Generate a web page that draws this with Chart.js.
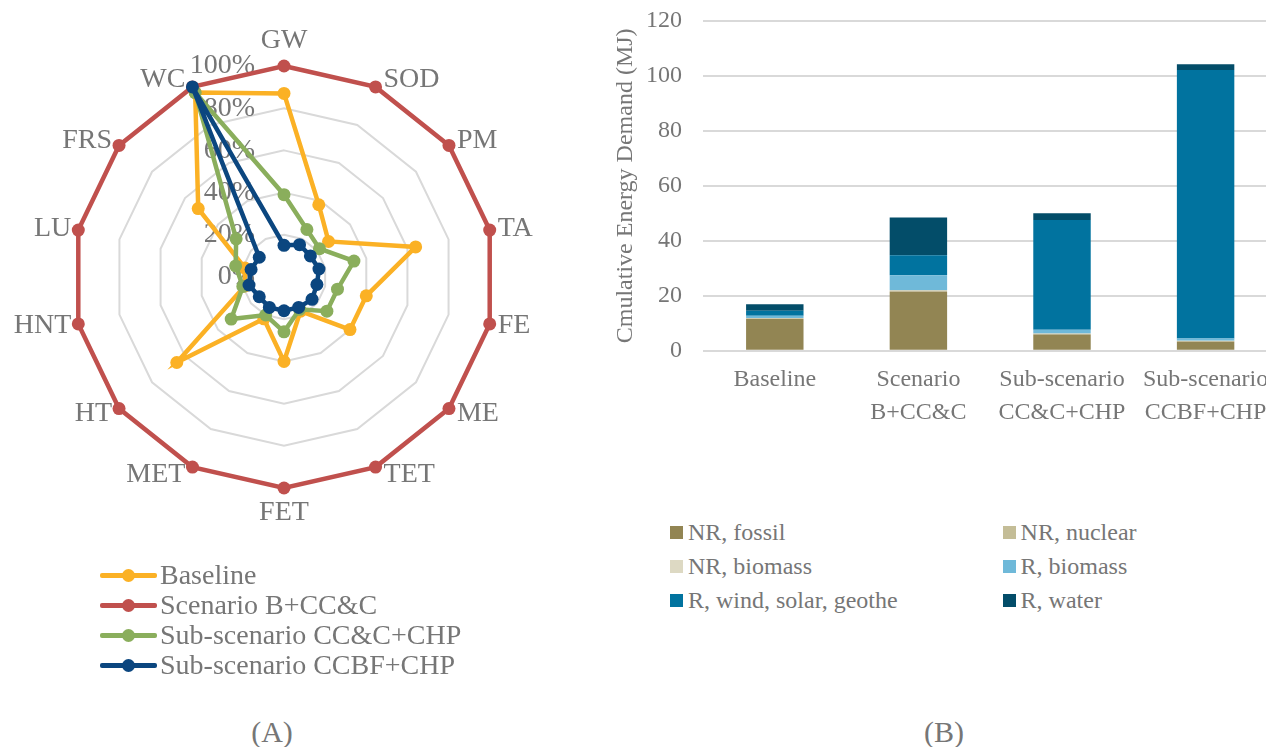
<!DOCTYPE html>
<html>
<head>
<meta charset="utf-8">
<script src="https://cdn.jsdelivr.net/npm/chart.js@4.4.1/dist/chart.umd.min.js"></script>
<style>
html,body{margin:0;padding:0;background:#fff;width:1266px;height:747px;overflow:hidden;position:relative;font-family:'Liberation Serif','Times New Roman',serif;color:#767676}
#radarCanvas{position:absolute;left:0;top:0}
#barCanvas{position:absolute;left:600px;top:0}
.rrow{position:absolute;left:100px;height:30px;line-height:30px;font-size:28px;white-space:nowrap}
.rrow .ln{position:absolute;left:0;top:13px;width:57px;height:4.5px;border-radius:2px}
.rrow .dt{position:absolute;left:21.5px;top:8.5px;width:13px;height:13px;border-radius:50%}
.rrow .tx{position:absolute;left:60px;top:0}
.brow{position:absolute;height:30px;line-height:30px;font-size:24px;white-space:nowrap}
.brow .bx{position:absolute;left:0;top:8.5px;width:13px;height:13px}
.brow .tx{position:absolute;left:18px;top:0}
.cap{position:absolute;font-size:30px;line-height:36px;transform:translateX(-50%)}
</style>
</head>
<body>
<canvas id="radarCanvas" width="570" height="560"></canvas>
<canvas id="barCanvas" width="700" height="460"></canvas>
<div id="radarLegend"></div>
<div id="barLegend"></div>
<div class="cap" style="left:272px;top:714px">(A)</div>
<div class="cap" style="left:944px;top:714px">(B)</div>
<script>
// ---------- Radar data (percent of maximum impact) ----------
const radarAxes = ['GW','SOD','PM','TA','FE','ME','TET','FET','MET','HT','HNT','LU','FRS','WC'];
const radarTickValues = [0, 20, 40, 60, 80, 100];
const radarTickLabels = ['0%', '20%', '40%', '60%', '80%', '100%'];
const radarSeriesNames = ['Baseline', 'Scenario B+CC&C', 'Sub-scenario CC&C+CHP', 'Sub-scenario CCBF+CHP'];
const baseline   = [87, 38, 27, 64, 40, 40, 18, 40, 22, 65, 19, 19, 52, 97];
const scenarioB  = [100, 100, 100, 100, 100, 100, 100, 100, 100, 100, 100, 100, 100, 100];
const subCCCCHP  = [39, 25, 21.5, 34, 26, 26, 17, 26, 20, 32, 20, 23.5, 29, 97];
const subCCBFCHP = [15, 17, 16, 17, 16, 17, 16, 16, 16, 15, 17, 16, 15, 100];
const radarColors = ['#FBB125', '#C0504D', '#8AAE5C', '#0B467F'];

// ---------- Bar data (MJ) ----------
const barCategories = [['Baseline'], ['Scenario', 'B+CC&C'], ['Sub-scenario', 'CC&C+CHP'], ['Sub-scenario', 'CCBF+CHP']];
const barSeriesNames = ['NR, fossil', 'NR, nuclear', 'NR, biomass', 'R, biomass', 'R, wind, solar, geothe', 'R, water'];
const nrFossil   = [11.5, 21.5, 5.9, 3.3];
const nrNuclear  = [0.3, 0.4, 0.3, 0.2];
const nrBiomass  = [0.1, 0.1, 0.1, 0.1];
const rBiomass   = [0.8, 5.5, 1.3, 0.8];
const rWindSolar = [1.8, 7.2, 40.0, 97.8];
const rWater     = [2.4, 13.8, 2.4, 2.1];
const yTickMax = 120;
const yTickStep = 20;
const barColors = ['#928553', '#C4BD97', '#DDD9C3', '#6FB9D9', '#01739F', '#034D69'];

const GRAY = '#767676';
const FONT = "'Liberation Serif','Times New Roman',serif";

// ---------- Radar chart ----------
const radarTextPlugin = {
  id: 'radarText',
  beforeDatasetsDraw(chart) {
    const s = chart.scales.r, ctx = chart.ctx;
    ctx.save();
    ctx.font = '28px ' + FONT;
    ctx.fillStyle = GRAY;
    ctx.textAlign = 'right';
    ctx.textBaseline = 'middle';
    radarTickValues.forEach((v, k) => {
      const y = s.yCenter - s.getDistanceFromCenterForValue(v);
      ctx.fillText(radarTickLabels[k], s.xCenter - 29, y);
    });
    ctx.restore();
  },
  afterDatasetsDraw(chart) {
    const s = chart.scales.r, ctx = chart.ctx;
    ctx.save();
    ctx.font = '28px ' + FONT;
    ctx.fillStyle = GRAY;
    ctx.textBaseline = 'middle';
    radarAxes.forEach((lab, i) => {
      const p = s.getPointPositionForValue(i, 100);
      const c = Math.cos(p.angle), sn = Math.sin(p.angle);
      if (Math.abs(c) < 0.01) {
        ctx.textAlign = 'center';
        ctx.fillText(lab, p.x, p.y + Math.sign(sn) * 25);
      } else if (c > 0) {
        ctx.textAlign = 'left';
        ctx.fillText(lab, p.x + 8, p.y + 8 * sn);
      } else {
        ctx.textAlign = 'right';
        ctx.fillText(lab, p.x - 7, p.y + 8 * sn);
      }
    });
    ctx.restore();
  }
};

const radarSeries = [baseline, scenarioB, subCCCCHP, subCCBFCHP];
const radarChart = new Chart(document.getElementById('radarCanvas'), {
  type: 'radar',
  data: {
    labels: radarAxes,
    datasets: radarSeries.map((d, k) => ({
      label: radarSeriesNames[k],
      data: d,
      borderColor: radarColors[k],
      backgroundColor: radarColors[k],
      pointBackgroundColor: radarColors[k],
      pointBorderColor: radarColors[k],
      pointBorderWidth: 0,
      pointRadius: 6.5,
      borderWidth: 4.5,
      fill: false,
      tension: 0,
      clip: false,
      order: 4 - k
    }))
  },
  options: {
    responsive: false,
    animation: false,
    devicePixelRatio: 1,
    layout: { padding: { left: 73, right: 75, top: 66, bottom: 72 } },
    plugins: { legend: { display: false }, tooltip: { enabled: false } },
    scales: {
      r: {
        min: 0, max: 100,
        ticks: { display: false, stepSize: 20 },
        grid: { color: '#D9D9D9', lineWidth: 2 },
        angleLines: { display: false },
        pointLabels: { display: false }
      }
    }
  },
  plugins: [radarTextPlugin]
});

// radar legend (HTML)
const rl = document.getElementById('radarLegend');
radarChart.data.datasets.forEach((ds, k) => {
  const row = document.createElement('div');
  row.className = 'rrow';
  row.style.top = (560 + k * 30) + 'px';
  row.innerHTML = '<i class="ln" style="background:' + ds.borderColor + '"></i><i class="dt" style="background:' + ds.borderColor + '"></i>';
  const t = document.createElement('span');
  t.className = 'tx';
  t.textContent = ds.label;
  row.appendChild(t);
  rl.appendChild(row);
});

// ---------- Bar chart ----------
const barSeries = [nrFossil, nrNuclear, nrBiomass, rBiomass, rWindSolar, rWater];
const barChart = new Chart(document.getElementById('barCanvas'), {
  type: 'bar',
  data: {
    labels: barCategories,
    datasets: barSeries.map((d, k) => ({
      label: barSeriesNames[k],
      data: d,
      backgroundColor: barColors[k],
      borderWidth: 0,
      categoryPercentage: 1,
      barPercentage: 0.4
    }))
  },
  options: {
    responsive: false,
    animation: false,
    devicePixelRatio: 1,
    layout: { padding: { top: 21, right: 22.6, left: 0, bottom: 0 } },
    plugins: { legend: { display: false }, tooltip: { enabled: false } },
    scales: {
      x: {
        stacked: true,
        grid: { display: false, drawTicks: false },
        border: { display: false },
        ticks: { color: GRAY, font: { family: FONT, size: 24, lineHeight: 1.38 }, padding: 12, maxRotation: 0, autoSkip: false },
        afterFit(a) { a.height = 460 - 350.7; }
      },
      y: {
        stacked: true,
        min: 0, max: yTickMax,
        ticks: { stepSize: yTickStep, color: GRAY, font: { family: FONT, size: 24 }, padding: 21 },
        grid: { color: '#D9D9D9', lineWidth: 2, drawTicks: false },
        border: { display: false },
        title: { display: true, text: 'Cmulative Energy Demand (MJ)', color: GRAY, font: { family: FONT, size: 24 }, padding: { top: 11, bottom: 0 } },
        afterFit(a) { a.width = 103; a.paddingTop = 0; a.paddingBottom = 0; }
      }
    }
  }
});

// bar legend (HTML, two columns)
const bl = document.getElementById('barLegend');
const colX = [670, 1002.6];
barChart.data.datasets.forEach((ds, k) => {
  const row = document.createElement('div');
  row.className = 'brow';
  row.style.left = colX[k % 2] + 'px';
  row.style.top = (532 - 15 + Math.floor(k / 2) * 34) + 'px';
  row.innerHTML = '<i class="bx" style="background:' + ds.backgroundColor + '"></i>';
  const t = document.createElement('span');
  t.className = 'tx';
  t.textContent = ds.label;
  row.appendChild(t);
  bl.appendChild(row);
});
</script>
</body>
</html>
